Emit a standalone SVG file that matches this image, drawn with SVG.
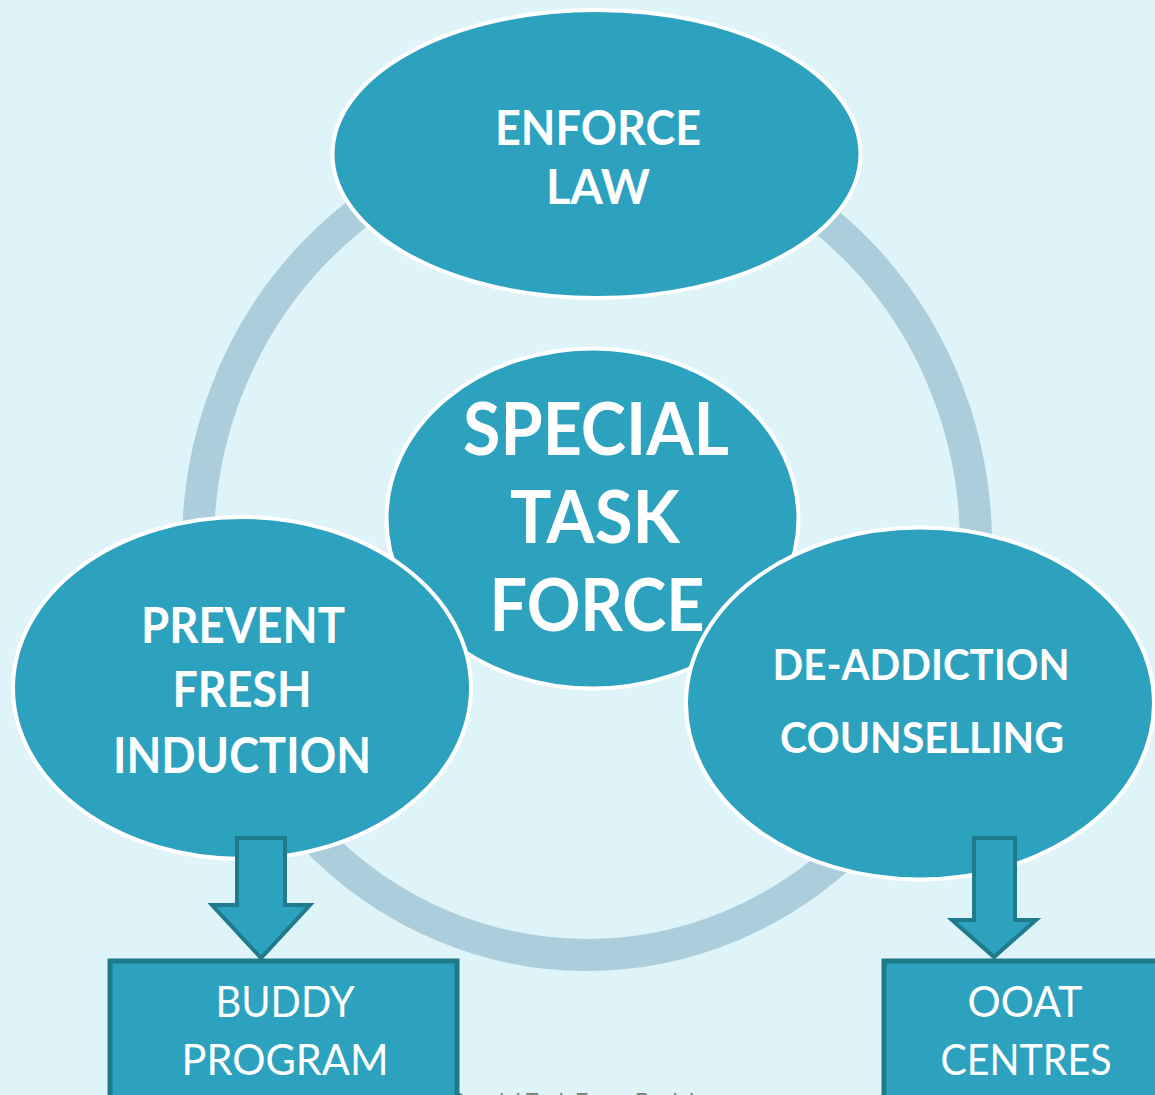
<svg xmlns="http://www.w3.org/2000/svg" width="1155" height="1095" viewBox="0 0 1155 1095">
  <style>
    .node { fill: #2DA2BF; stroke: #FFFFFF; stroke-width: 4; }
    .lbl { font-family: Lato, "Open Sans", "Liberation Sans", sans-serif; font-weight: 700; fill: #FFFFFF; text-anchor: middle; }
    .blbl { font-family: Lato, "Open Sans", "Liberation Sans", sans-serif; font-weight: 400; fill: #FFFFFF; text-anchor: middle; font-size: 42px; }
    .arrow { fill: #2DA2BF; stroke: #1F7A8C; stroke-width: 4; stroke-linejoin: miter; }
    .box { fill: #2DA2BF; stroke: #1F7A8C; stroke-width: 5; }
    .ring { fill: none; stroke: #ACCEDC; stroke-width: 32; }
    .foot { font-family: "Liberation Sans", Arial, sans-serif; font-size: 24px; fill: #7A7A7A; }
  </style>
  <rect x="0" y="0" width="1155" height="1095" fill="#DFF4F9"/>

  <g id="connectors">
    <ellipse class="ring" cx="587" cy="545" rx="389" ry="410"/>
  </g>

  <text class="foot" x="451" y="1110" textLength="250" lengthAdjust="spacingAndGlyphs">Special Task Force Punjab</text>

  <g id="enforce-law">
    <ellipse class="node" cx="596.5" cy="154" rx="264" ry="144"/>
    <text class="lbl" font-size="48" x="598" y="145" textLength="206" lengthAdjust="spacingAndGlyphs">ENFORCE</text>
    <text class="lbl" font-size="48" x="598" y="204" textLength="104" lengthAdjust="spacingAndGlyphs">LAW</text>
  </g>

  <g id="special-task-force">
    <ellipse class="node" cx="592.5" cy="518.5" rx="206" ry="170"/>
    <text class="lbl" font-size="73" x="596" y="455" textLength="266" lengthAdjust="spacingAndGlyphs">SPECIAL</text>
    <text class="lbl" font-size="73" x="595" y="543" textLength="170" lengthAdjust="spacingAndGlyphs">TASK</text>
    <text class="lbl" font-size="73" x="597" y="631" textLength="215" lengthAdjust="spacingAndGlyphs">FORCE</text>
  </g>

  <g id="prevent-fresh-induction">
    <ellipse class="node" cx="242" cy="688" rx="229" ry="171"/>
    <text class="lbl" font-size="49" x="243" y="643" textLength="204" lengthAdjust="spacingAndGlyphs">PREVENT</text>
    <text class="lbl" font-size="49" x="242" y="707" textLength="139" lengthAdjust="spacingAndGlyphs">FRESH</text>
    <text class="lbl" font-size="49" x="242" y="773" textLength="258" lengthAdjust="spacingAndGlyphs">INDUCTION</text>
  </g>

  <g id="de-addiction-counselling">
    <ellipse class="node" cx="920" cy="703.5" rx="234" ry="176"/>
    <text class="lbl" font-size="42" x="921" y="680" textLength="297" lengthAdjust="spacingAndGlyphs">DE-ADDICTION</text>
    <text class="lbl" font-size="42" x="922" y="753" textLength="284" lengthAdjust="spacingAndGlyphs">COUNSELLING</text>
  </g>

  <g id="arrow-left">
    <polygon class="arrow" points="237,838 285,838 285,905 310,905 261,958 212,905 237,905"/>
  </g>
  <g id="arrow-right">
    <polygon class="arrow" points="974,838 1015,838 1015,920 1036,920 994,957 952,920 974,920"/>
  </g>

  <g id="buddy-program">
    <rect class="box" x="110" y="961" width="347" height="150"/>
    <text class="blbl" x="285" y="1017" textLength="139" lengthAdjust="spacingAndGlyphs">BUDDY</text>
    <text class="blbl" x="285" y="1075" textLength="207" lengthAdjust="spacingAndGlyphs">PROGRAM</text>
  </g>

  <g id="ooat-centres">
    <rect class="box" x="884" y="961" width="300" height="150"/>
    <text class="blbl" x="1025" y="1017" textLength="115" lengthAdjust="spacingAndGlyphs">OOAT</text>
    <text class="blbl" x="1026" y="1075" textLength="171" lengthAdjust="spacingAndGlyphs">CENTRES</text>
  </g>
</svg>
